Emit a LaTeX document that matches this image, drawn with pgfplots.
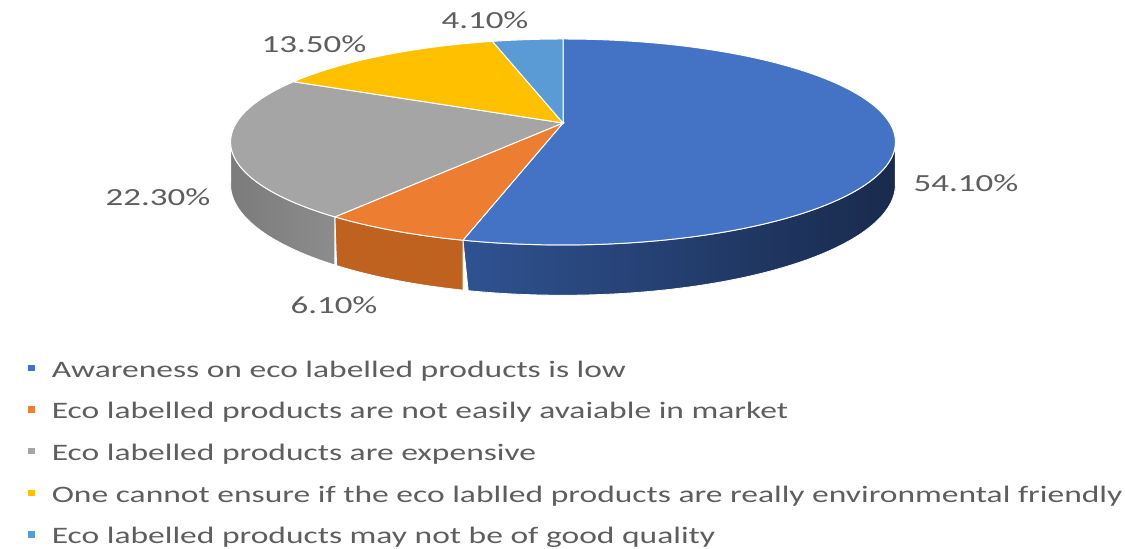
\documentclass[border=0pt]{standalone}
\usepackage{pgfplots}
\usepackage{pgfplotstable}
\pgfplotsset{compat=1.18}
\usepackage{fontspec}
\setmainfont{Carlito}
\newfontfamily\chartfont{Carlito}[FakeStretch=1.42]
\definecolor{cA}{HTML}{4472C4}
\definecolor{cB}{HTML}{ED7D31}
\definecolor{cC}{HTML}{A5A5A5}
\definecolor{cD}{HTML}{FFC000}
\definecolor{cE}{HTML}{5B9BD5}
\definecolor{sAl}{HTML}{2F5291}
\definecolor{sAr}{HTML}{192A4C}
\definecolor{sB}{HTML}{BF621F}
\definecolor{sC}{HTML}{8C8C8C}
\definecolor{txt}{HTML}{5E5E5E}

\pgfplotstableread{
idx value
0 54.1
1 6.1
2 22.3
3 13.5
4 4.1
}\piedata

\begin{document}
\begin{tikzpicture}
% cumulative angles (clockwise from 12 o'clock), normalised to the total
\pgfplotstablegetelem{0}{value}\of\piedata \let\vA\pgfplotsretval
\pgfplotstablegetelem{1}{value}\of\piedata \let\vB\pgfplotsretval
\pgfplotstablegetelem{2}{value}\of\piedata \let\vC\pgfplotsretval
\pgfplotstablegetelem{3}{value}\of\piedata \let\vD\pgfplotsretval
\pgfplotstablegetelem{4}{value}\of\piedata \let\vE\pgfplotsretval
\pgfmathsetmacro\tot{\vA+\vB+\vC+\vD+\vE}
\pgfmathsetmacro\fac{3.6*(100/\tot)}
\pgfmathsetmacro\eA{\fac*\vA}
\pgfmathsetmacro\eB{\eA+\fac*\vB}
\pgfmathsetmacro\eC{\eB+\fac*\vC}
\pgfmathsetmacro\eD{\eC+\fac*\vD}
\def\eE{360}
\begin{axis}[
  width=562.5pt, height=274.5pt, scale only axis,
  xmin=0, xmax=1125, ymin=0, ymax=549, y dir=reverse,
  hide axis, clip=false,
  declare function={
    ww(\t)=1+0.1844*cos(\t);
    px(\t)=563+326.7*sin(\t)/ww(\t);
    py(\t)=123-99.5*cos(\t)/ww(\t);
    dd(\t)=41/ww(\t);
    angs(\s)=ifthenelse(\s<=1.0001,\sa+(\sb-\sa)*\s,\sb-(\sb-\sa)*(\s-1));
  },
  legend style={at={(axis cs:28,361)}, anchor=north west, draw=none, fill=none,
    font=\chartfont\fontsize{11.8}{13}\selectfont, text=txt,
    row sep=10.3pt, inner sep=0pt,
    nodes={inner sep=0pt, text height=8pt, text depth=2.5pt}},
  legend cell align=left,
  legend image code/.code={\fill[#1,draw=none] (0pt,0.3pt) rectangle (3.2pt,3.5pt);},
  /tikz/every odd column/.append style={column sep=8.5pt},
]
\path (axis cs:0,0) rectangle (axis cs:1125,549);
% side walls
\def\sa{100.6}\let\sb\eA
\addplot[forget plot, left color=sAl, right color=sAr, draw=white, line width=0.4pt, domain=0:2, samples=241, variable=\s]
  ({px(angs(\s))},{py(angs(\s))+(\s>1.0001)*dd(angs(\s))}) -- cycle;
\let\sa\eA\let\sb\eB
\addplot[forget plot, fill=sB, draw=white, line width=0.4pt, domain=0:2, samples=121, variable=\s]
  ({px(angs(\s))},{py(angs(\s))+(\s>1.0001)*dd(angs(\s))}) -- cycle;
\let\sa\eB\def\sb{259.4}
\addplot[forget plot, left color=sC!88!black, right color=sC, draw=white, line width=0.4pt, domain=0:2, samples=121, variable=\s]
  ({px(angs(\s))},{py(angs(\s))+(\s>1.0001)*dd(angs(\s))}) -- cycle;
% top faces
\addplot[fill=cA, draw=white, line width=0.5pt, domain=0:\eA, samples=150, variable=\t]
  ({px(\t)},{py(\t)}) -- (axis cs:563,123) -- cycle;
\addlegendentry{Awareness on eco labelled products is low}
\addplot[fill=cB, draw=white, line width=0.5pt, domain=\eA:\eB, samples=40, variable=\t]
  ({px(\t)},{py(\t)}) -- (axis cs:563,123) -- cycle;
\addlegendentry{Eco labelled products are not easily avaiable in market}
\addplot[fill=cC, draw=white, line width=0.5pt, domain=\eB:\eC, samples=80, variable=\t]
  ({px(\t)},{py(\t)}) -- (axis cs:563,123) -- cycle;
\addlegendentry{Eco labelled products are expensive}
\addplot[fill=cD, draw=white, line width=0.5pt, domain=\eC:\eD, samples=60, variable=\t]
  ({px(\t)},{py(\t)}) -- (axis cs:563,123) -- cycle;
\addlegendentry{One cannot ensure if the eco lablled products are really environmental friendly}
\addplot[fill=cE, draw=white, line width=0.5pt, domain=\eD:\eE, samples=30, variable=\t]
  ({px(\t)},{py(\t)}) -- (axis cs:563,123) -- cycle;
\addlegendentry{Eco labelled products may not be of good quality}
% data labels
\begin{scope}[every node/.style={font=\chartfont\fontsize{12.3}{14}\selectfont, text=txt, inner sep=0pt}]
\node at (axis cs:966,183) {54.10\%};
\node at (axis cs:334,305) {6.10\%};
\node at (axis cs:158,197) {22.30\%};
\node at (axis cs:314,44) {13.50\%};
\node at (axis cs:485,20) {4.10\%};
\end{scope}
\end{axis}
\end{tikzpicture}
\end{document}
